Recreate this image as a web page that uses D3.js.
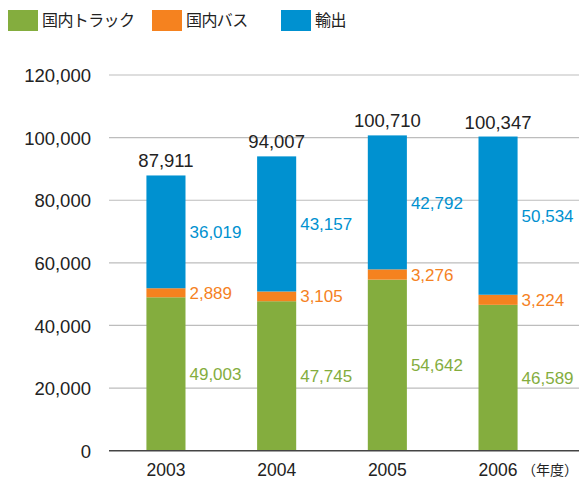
<!DOCTYPE html>
<html>
<head>
<meta charset="utf-8">
<script src="https://cdn.jsdelivr.net/npm/d3@7"></script>
<style>
  body { margin: 0; background: #fff; }
  svg { display: block; font-family: "Liberation Sans", Arial, sans-serif; }
  .jp { font-family: "Noto Sans CJK JP", "Noto Sans", sans-serif; }
</style>
</head>
<body>
<script>
'use strict';
const years = ['2003', '2004', '2005', '2006'];
const seriesNames = ['国内トラック', '国内バス', '輸出'];
const truck = [49003, 47745, 54642, 46589];
const bus = [2889, 3105, 3276, 3224];
const exportVals = [36019, 43157, 42792, 50534];
const totals = [87911, 94007, 100710, 100347];
const yTicks = [0, 20000, 40000, 60000, 80000, 100000, 120000];
const colors = ['#84ad3e', '#f5821f', '#0091d0'];

let width = 579, height = 480;
let svg = d3.select('body').append('svg')
	.attr('width', width)
	.attr('height', height);

let y = d3.scaleLinear().domain([0, 120000]).range([450.7, 75]);
let x = d3.scaleBand().domain(years).range([111, 553]).paddingInner(0.647).paddingOuter(0.32);

// grid
svg.append('g')
	.selectAll('line')
	.data(yTicks.slice(1))
	.join('line')
	.attr('x1', 109).attr('x2', width)
	.attr('y1', d => y(d)).attr('y2', d => y(d))
	.attr('stroke', '#bdbdbd').attr('stroke-width', 1.2);

// y axis labels
let yAxis = d3.axisLeft(y).tickValues(yTicks).tickSize(0).tickPadding(0).tickFormat(d3.format(','));
svg.append('g')
	.attr('transform', 'translate(91,0)')
	.call(yAxis)
	.call(g => g.select('.domain').remove())
	.selectAll('text')
	.attr('font-size', 18.5)
	.attr('font-family', '"Liberation Sans", Arial, sans-serif')
	.attr('fill', '#222')
	.attr('dy', '0.36em');

// stacked bars
let rows = years.map((yr, i) => ({year: yr, truck: truck[i], bus: bus[i], exp: exportVals[i]}));
let stack = d3.stack().keys(['truck', 'bus', 'exp'])(rows);

let layer = svg.append('g')
	.selectAll('g')
	.data(stack)
	.join('g')
	.attr('fill', (d, i) => colors[i]);

layer.selectAll('rect')
	.data(d => d)
	.join('rect')
	.attr('x', d => x(d.data.year))
	.attr('width', x.bandwidth())
	.attr('y', d => y(d[1]))
	.attr('height', d => y(d[0]) - y(d[1]));

// segment labels
layer.selectAll('text')
	.data(d => d)
	.join('text')
	.attr('x', d => x(d.data.year) + x.bandwidth() + 4)
	.attr('y', d => (y(d[0]) + y(d[1])) / 2)
	.attr('dy', '0.36em')
	.attr('font-size', 17)
	.text(d => d3.format(',')(d[1] - d[0]));

// totals
svg.append('g')
	.selectAll('text')
	.data(years)
	.join('text')
	.attr('x', d => x(d) + x.bandwidth() / 2)
	.attr('y', (d, i) => y(totals[i]) - 8)
	.attr('text-anchor', 'middle')
	.attr('font-size', 18.5)
	.attr('fill', '#222')
	.text((d, i) => d3.format(',')(totals[i]));

// baseline
svg.append('line')
	.attr('x1', 109).attr('x2', width)
	.attr('y1', y(0)).attr('y2', y(0))
	.attr('stroke', '#444').attr('stroke-width', 1.5);

// x axis labels
let xAxis = d3.axisBottom(x).tickSize(0).tickPadding(0);
svg.append('g')
	.attr('transform', `translate(0,${y(0)})`)
	.call(xAxis)
	.call(g => g.select('.domain').remove())
	.selectAll('text')
	.attr('font-size', 17.5)
	.attr('font-family', '"Liberation Sans", Arial, sans-serif')
	.attr('fill', '#222')
	.attr('dy', null)
	.attr('y', 25.5);

svg.append('text')
	.attr('class', 'jp')
	.attr('x', 578).attr('y', 475)
	.attr('text-anchor', 'end')
	.attr('font-size', 14)
	.attr('fill', '#222')
	.text('（年度）');

// legend
let legendX = [8, 152, 281];
let legend = svg.append('g')
	.selectAll('g')
	.data(seriesNames)
	.join('g')
	.attr('transform', (d, i) => `translate(${legendX[i]},10)`);
legend.append('rect')
	.attr('width', 30).attr('height', 21)
	.attr('fill', (d, i) => colors[i]);
legend.append('text')
	.attr('class', 'jp')
	.attr('x', 34).attr('y', 10.5)
	.attr('dy', '0.36em')
	.attr('font-size', 16)
	.attr('letter-spacing', -0.6)
	.attr('fill', '#222')
	.text(d => d);
</script>
</body>
</html>
